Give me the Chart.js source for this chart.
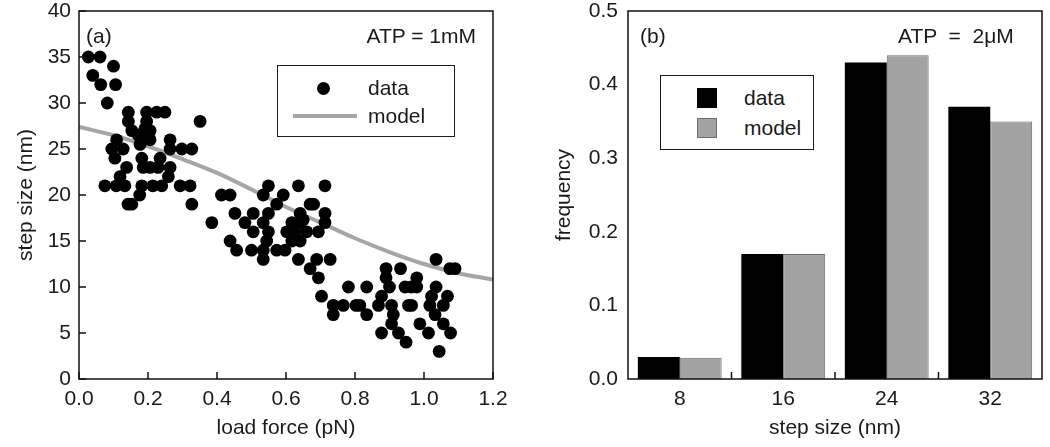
<!DOCTYPE html>
<html>
<head>
<meta charset="utf-8">
<script src="https://cdn.jsdelivr.net/npm/chart.js@4/dist/chart.umd.min.js"></script>
<style>
  html, body { margin: 0; padding: 0; background: #fff; }
  #wrap { position: relative; width: 1050px; height: 447px; overflow: hidden; font-family: "Liberation Sans", Arial, sans-serif; color: #1a1a1a; }
  canvas { position: absolute; top: 0; }
  .t { position: absolute; font-size: 21px; line-height: 24px; white-space: pre; }
  .box { position: absolute; border: 1.5px solid #1a1a1a; box-sizing: border-box; background: #fff; }
</style>
</head>
<body>
<div id="wrap">
  <canvas id="c1" width="520" height="447" style="left:0px"></canvas>
  <canvas id="c2" width="520" height="447" style="left:530px"></canvas>

  <div class="t" style="left:86px; top:24px;">(a)</div>
  <div class="t" style="right:574px; top:24px;">ATP = 1mM</div>
  <div class="box" style="left:277px; top:65px; width:178px; height:72px;"></div>
  <div style="position:absolute; left:317px; top:82px; width:13px; height:13px; border-radius:50%; background:#000;"></div>
  <div style="position:absolute; left:293px; top:114px; width:64px; height:4px; background:#a6a6a6;"></div>
  <div class="t" style="left:368px; top:76px;">data</div>
  <div class="t" style="left:368px; top:104px;">model</div>

  <div class="t" style="left:640px; top:24px;">(b)</div>
  <div class="t" style="left:898px; top:24px;">ATP  =  2μM</div>
  <div class="box" style="left:660px; top:75px; width:154px; height:75px;"></div>
  <div style="position:absolute; left:697px; top:88px; width:20px; height:20px; background:#000;"></div>
  <div style="position:absolute; left:697px; top:118px; width:20px; height:20px; background:#a3a3a3; border:1px solid #6e6e6e; box-sizing:border-box;"></div>
  <div class="t" style="left:744px; top:86px;">data</div>
  <div class="t" style="left:744px; top:116px;">model</div>
</div>
<script>
// ---------- Panel (a): step size vs load force ----------
const forceX = [
  0.027,0.061,0.100,0.040,0.063,0.106,0.082,
  0.143,0.196,0.225,0.249,0.143,0.196,0.351,0.153,0.191,0.206,0.172,
  0.109,0.182,0.206,0.264,0.095,0.128,0.177,0.264,0.298,0.327,
  0.104,0.182,0.235,0.138,0.186,0.206,0.229,0.264,0.119,0.259,
  0.075,0.108,0.133,0.182,0.214,0.240,0.293,0.322,0.176,0.142,0.153,0.327,
  0.549,0.636,0.713,0.413,0.438,0.534,0.592,0.573,0.670,0.680,
  0.452,0.505,0.549,0.641,0.713,0.385,0.481,0.534,0.617,0.641,0.650,0.713,
  0.505,0.549,0.602,0.626,0.660,0.694,0.438,0.544,0.617,0.641,
  0.457,0.500,0.534,0.573,0.597,0.534,0.636,0.689,0.728,0.670,0.694,
  0.781,0.834,0.703,0.737,0.766,0.803,0.737,0.834,
  1.035,1.075,1.090,0.890,0.932,0.890,0.979,0.900,0.945,0.963,0.979,1.035,
  0.877,1.022,1.068,0.814,0.868,0.906,0.955,0.964,1.017,1.056,
  0.911,1.032,0.906,0.988,1.056,0.877,0.926,1.013,1.077,0.948,1.044
];
const stepY = [
  35,35,34,33,32,32,30,
  29,29,29,29,28,28,28,27,27.2,27,26.5,
  26,26,26,26,25,25,25.5,25,25,25,
  24,24,24,23,23,23,23,23,22,22,
  21,21,21,21,21,21,21,21,20,19,19,19,
  21,21,21,20,20,20,20,19,19,19,
  18,18,18,18,18,17,17,17,17,17,17.3,17,
  16,16,16,16,16,16,15,15,15,15,
  14,14,14,14,14,13,13,13,13,12,11,
  10,10,9,8,8,8,7,7,
  13,12,12,12,12,11,11,10,10,10,10,10,
  9,9,9,8,8,8,8,8,8,8,
  7,7,6,6,6,5,5,5,5,4,3
];
const modelX = [0,0.1,0.2,0.3,0.4,0.5,0.6,0.7,0.8,0.9,1.0,1.1,1.2];
const modelY = [27.4,26.5,25.3,23.9,22.4,20.6,18.7,17.0,15.3,13.8,12.5,11.5,10.8];

// ---------- Panel (b): step size histogram ----------
const stepCategories = ['8','16','24','32'];
const freqData  = [0.03, 0.17, 0.43, 0.37];
const freqModel = [0.029, 0.17, 0.44, 0.35];

const FONT = { family: '"Liberation Sans", Arial, sans-serif', size: 21 };
const TXT = '#1a1a1a';

const framePlugin = {
  id: 'frame',
  afterDraw(chart, args, opts) {
    const { ctx, chartArea: a } = chart;
    const L = 7;
    ctx.save();
    ctx.strokeStyle = '#111';
    ctx.lineWidth = 1.5;
    ctx.beginPath();
    if (opts.xTicks) {
      const sx = chart.scales.x;
      if (sx.type === 'category') {
        const n = sx.ticks.length;
        for (let i = 1; i < n; i++) {
          const px = (sx.getPixelForValue(i - 1) + sx.getPixelForValue(i)) / 2;
          ctx.moveTo(px, a.bottom); ctx.lineTo(px, a.bottom - L);
        }
      } else {
        sx.ticks.forEach(t => { const px = sx.getPixelForValue(t.value); ctx.moveTo(px, a.bottom); ctx.lineTo(px, a.bottom - L); });
      }
    }
    if (opts.yTicks) {
      const sy = chart.scales.y;
      sy.ticks.forEach(t => { const py = sy.getPixelForValue(t.value); ctx.moveTo(a.left, py); ctx.lineTo(a.left + L, py); });
    }
    ctx.stroke();
    ctx.strokeRect(a.left, a.top, a.right - a.left, a.bottom - a.top);
    ctx.restore();
  }
};

function fitX(h) { return s => { s.height = h; s.paddingLeft = 0; s.paddingRight = 0; }; }
function fitY(w) { return s => { s.width = w; s.paddingTop = 0; s.paddingBottom = 0; }; }

new Chart(document.getElementById('c1'), {
  type: 'scatter',
  data: {
    datasets: [
      {
        label: 'data',
        data: forceX.map((x, i) => ({ x: x, y: stepY[i] })),
        backgroundColor: '#000', borderColor: '#000',
        pointRadius: 6.4, pointHoverRadius: 6.4, borderWidth: 0, order: 1
      },
      {
        label: 'model', type: 'line',
        data: modelX.map((x, i) => ({ x: x, y: modelY[i] })),
        borderColor: '#a6a6a6', borderWidth: 4, pointRadius: 0, fill: false,
        cubicInterpolationMode: 'monotone', order: 2
      }
    ]
  },
  options: {
    responsive: false, animation: false, devicePixelRatio: 1,
    layout: { autoPadding: false, padding: { left: 10, right: 27, top: 11, bottom: 2 } },
    plugins: { legend: { display: false }, tooltip: { enabled: false }, frame: { xTicks: true, yTicks: true } },
    scales: {
      x: {
        type: 'linear', min: 0, max: 1.2,
        afterFit: fitX(66),
        grid: { display: false, drawTicks: false },
        border: { display: false },
        ticks: { stepSize: 0.2, padding: 8, color: TXT, font: FONT, maxRotation: 0, callback: v => Number(v).toFixed(1) },
        title: { display: true, text: 'load force (pN)', color: TXT, font: FONT }
      },
      y: {
        min: 0, max: 40,
        afterFit: fitY(69),
        grid: { display: false, drawTicks: false },
        border: { display: false },
        ticks: { stepSize: 5, padding: 8, color: TXT, font: FONT },
        title: { display: true, text: 'step size (nm)', color: TXT, font: FONT }
      }
    }
  },
  plugins: [framePlugin]
});

new Chart(document.getElementById('c2'), {
  type: 'bar',
  data: {
    labels: stepCategories,
    datasets: [
      { label: 'data', data: freqData, backgroundColor: '#000', borderColor: '#000', borderWidth: 0 },
      { label: 'model', data: freqModel, backgroundColor: '#a3a3a3', borderColor: '#6e6e6e', borderWidth: 1 }
    ]
  },
  options: {
    responsive: false, animation: false, devicePixelRatio: 1,
    layout: { autoPadding: false, padding: { left: 18, right: 8, top: 11, bottom: 2 } },
    datasets: { bar: { categoryPercentage: 0.81, barPercentage: 1.0 } },
    plugins: { legend: { display: false }, tooltip: { enabled: false }, frame: { xTicks: true, yTicks: false } },
    scales: {
      x: {
        afterFit: fitX(66),
        grid: { display: false, drawTicks: false },
        border: { display: false },
        ticks: { padding: 8, color: TXT, font: FONT, maxRotation: 0 },
        title: { display: true, text: 'step size (nm)', color: TXT, font: FONT }
      },
      y: {
        min: 0, max: 0.5,
        afterFit: fitY(80),
        grid: { display: false, drawTicks: false },
        border: { display: false },
        ticks: { stepSize: 0.1, padding: 10, color: TXT, font: FONT, callback: v => Number(v).toFixed(1) },
        title: { display: true, text: 'frequency', color: TXT, font: FONT }
      }
    }
  },
  plugins: [framePlugin]
});
</script>
</body>
</html>
